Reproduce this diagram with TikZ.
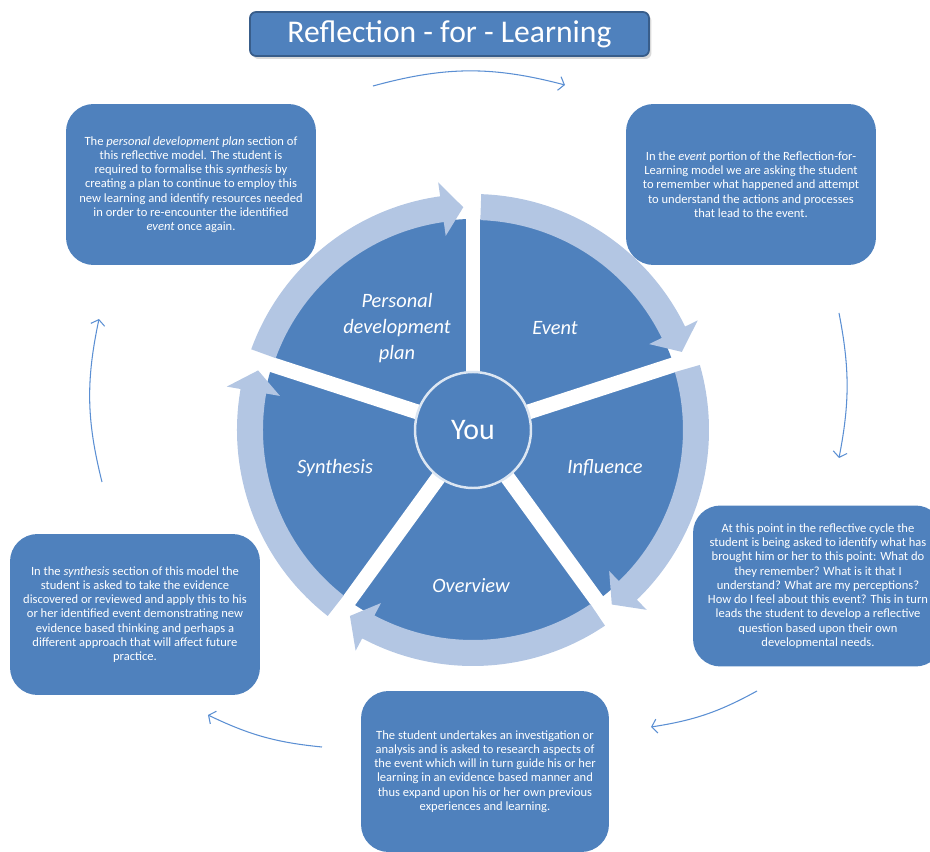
\documentclass[tikz,border=0pt]{standalone}
\usepackage{fontspec}
\setmainfont{Carlito}
\usetikzlibrary{arrows.meta,shadows}
\definecolor{boxblue}{HTML}{4F81BD}
\definecolor{ringblue}{HTML}{B3C6E3}
\definecolor{titleline}{HTML}{385D8A}
\definecolor{arrowblue}{HTML}{5B8FD3}
\definecolor{youline}{HTML}{DCE6F2}
\tikzset{
  infobox/.style={fill=boxblue, rounded corners=0.55cm, minimum width=5cm, minimum height=3.22cm,
    text=white, align=center, inner sep=0pt, font=\fontsize{7.15}{8.1}\selectfont},
  sector/.style={text=white, align=center, font=\fontsize{11.6}{14.7}\selectfont\itshape},
  cyclearrow/.style={arrowblue, line width=0.6pt, -{Straight Barb[length=3pt,width=8pt]}}
}
\begin{document}
\begin{tikzpicture}[x=0.02cm, y=0.02cm]
\useasboundingbox (-473,-422) rectangle (457,430);
\clip (-473,-422) rectangle (457,430);
\node[fill=boxblue, draw=titleline, line width=1pt, rounded corners=0.12cm, minimum width=7.98cm,
  minimum height=0.88cm, text=white, font=\fontsize{18}{21}\selectfont,
  drop shadow={opacity=0.3, shadow xshift=0.05cm, shadow yshift=-0.06cm}] (title) at (-23.5,396) {Reflection - for - Learning\hspace{0.3cm}};
\fill[boxblue] (0,0) circle[radius=211];
\foreach \g in {90,18,-54,-126,-198}
  \draw[white, line width=0.3cm] (0,0) -- (\g:215);
\foreach \g in {90,18,-54,-126,-198}
  \fill[ringblue] ({\g+70}:236) arc[start angle={\g+70}, end angle={\g+8}, radius=236] -- ({\g+8}:250)
    -- ({\g+2.5}:223) -- ({\g+8}:196) -- ({\g+8}:210) arc[start angle={\g+8}, end angle={\g+70}, radius=210] -- cycle;
\node[circle, fill=boxblue, draw=youline, line width=1.4pt, minimum size=2.32cm, text=white,
  font=\fontsize{17}{20}\selectfont] (you) at (0,0) {You};
\node[sector] (pdp) at (-76,102) {Personal\\development\\plan};
\node[sector] (event) at (82,102) {Event};
\node[sector] (influence) at (132,-38) {Influence};
\node[sector] (overview) at (-2,-156) {Overview};
\node[sector] (synthesis) at (-138,-38) {Synthesis};
\node[infobox] (pdpbox) at (-282,245.5) {The \textit{personal development plan} section of\\this reflective model. The  student is\\required to formalise this \textit{synthesis} by\\creating a plan to continue to employ this\\new learning and identify resources needed\\in order to re-encounter the identified\\\textit{event} once again.};
\node[infobox] (eventbox) at (278,245.5) {In the \textit{event} portion of the Reflection-for-\\Learning model we are asking the student\\to remember  what happened and attempt\\to understand the actions and processes\\that lead to the event.};
\node[infobox] (influencebox) at (345,-156) {At this point in the reflective cycle the\\student is being asked to identify what has\\brought him or her to this point: What do\\they remember?  What is it that I\\understand? What are my perceptions?\\How do I feel about this event? This in turn\\leads the student to develop a reflective\\question based upon their own\\developmental  needs.};
\node[infobox, minimum width=4.96cm] (overviewbox) at (12,-341.5) {The student undertakes an investigation or\\analysis and is asked to research aspects of\\the event  which will in turn guide his or her\\learning in an evidence based manner and\\thus expand upon his or her own previous\\experiences and learning.};
\node[infobox] (synthesisbox) at (-338,-184.5) {In the \textit{synthesis} section of this model the\\student  is asked to take the evidence\\discovered or reviewed  and apply this to his\\or her identified event  demonstrating new\\evidence  based thinking and perhaps a\\different approach that will affect future\\practice.};
\coordinate (topfrom) at (-100,344);
\coordinate (topto) at (92,345);
\coordinate (rightfrom) at (366,117);
\coordinate (rightto) at (366,-28);
\coordinate (lowrightfrom) at (284,-261);
\coordinate (lowrightto) at (178,-297);
\coordinate (lowleftfrom) at (-151,-317);
\coordinate (lowleftto) at (-265,-285);
\coordinate (leftfrom) at (-371,-52);
\coordinate (leftto) at (-374,111);
\draw[cyclearrow] (topfrom) to[bend left=15] (topto);
\draw[cyclearrow] (rightfrom) to[bend left=11] (rightto);
\draw[cyclearrow] (lowrightfrom) to[bend left=10] (lowrightto);
\draw[cyclearrow] (lowleftfrom) to[bend left=10] (lowleftto);
\draw[cyclearrow] (leftfrom) to[bend left=13] (leftto);
\end{tikzpicture}
\end{document}
